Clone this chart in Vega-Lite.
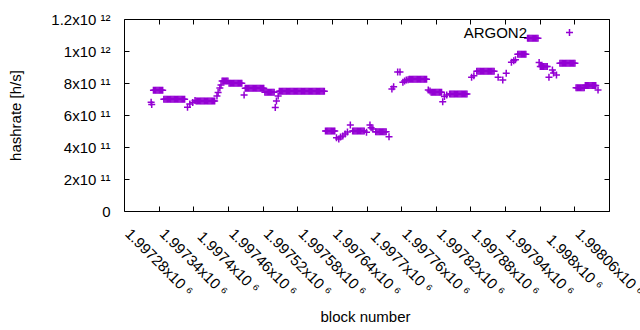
{
 "$schema": "https://vega.github.io/schema/vega-lite/v6.json",
 "width": 485,
 "height": 192,
 "autosize": {"type": "none"},
 "padding": {"left": 124, "top": 19, "right": 31, "bottom": 119},
 "background": "white",
 "config": {
  "font": "Liberation Sans",
  "view": {"stroke": "black", "strokeWidth": 1},
  "axis": {"grid": false, "domain": false, "tickColor": "black", "tickSize": -5, "tickWidth": 1, "labelFont": "Liberation Sans", "labelFontSize": 15, "labelColor": "black", "titleFont": "Liberation Sans", "titleFontSize": 15, "titleFontWeight": "normal", "titleColor": "black"}
 },
 "data": {"values": [
  {"b":1997267,"h":6.8e11},{"b":1997268,"h":6.65e11},
  {"b":1997271,"h":7.55e11},{"b":1997273,"h":7.55e11},{"b":1997275,"h":7.55e11},{"b":1997277,"h":7.55e11},{"b":1997279,"h":7.55e11},{"b":1997281,"h":7.55e11},{"b":1997283,"h":7.55e11},{"b":1997285,"h":7.55e11},{"b":1997287,"h":7.55e11},
  {"b":1997289,"h":6.98e11},{"b":1997291,"h":6.98e11},{"b":1997293,"h":6.98e11},{"b":1997295,"h":6.98e11},{"b":1997297,"h":6.98e11},{"b":1997299,"h":6.98e11},{"b":1997301,"h":6.98e11},{"b":1997303,"h":6.98e11},{"b":1997305,"h":6.98e11},{"b":1997307,"h":6.98e11},{"b":1997309,"h":6.98e11},{"b":1997311,"h":6.98e11},{"b":1997313,"h":6.98e11},{"b":1997315,"h":6.98e11},{"b":1997317,"h":6.98e11},{"b":1997319,"h":6.98e11},{"b":1997321,"h":6.98e11},{"b":1997323,"h":6.98e11},{"b":1997325,"h":6.98e11},
  {"b":1997330,"h":6.48e11},{"b":1997334,"h":6.69e11},{"b":1997339,"h":6.78e11},{"b":1997343,"h":6.9e11},
  {"b":1997345,"h":6.88e11},{"b":1997347,"h":6.88e11},{"b":1997349,"h":6.88e11},{"b":1997351,"h":6.88e11},{"b":1997353,"h":6.88e11},{"b":1997355,"h":6.88e11},{"b":1997357,"h":6.88e11},{"b":1997359,"h":6.88e11},{"b":1997361,"h":6.88e11},{"b":1997363,"h":6.88e11},{"b":1997365,"h":6.88e11},{"b":1997367,"h":6.88e11},{"b":1997369,"h":6.88e11},{"b":1997371,"h":6.88e11},{"b":1997373,"h":6.88e11},{"b":1997375,"h":6.88e11},{"b":1997377,"h":6.88e11},
  {"b":1997381,"h":7.19e11},{"b":1997383,"h":7.41e11},{"b":1997386,"h":7.69e11},{"b":1997388,"h":7.88e11},
  {"b":1997390,"h":8.13e11},{"b":1997392,"h":8.13e11},{"b":1997394,"h":8.13e11},{"b":1997396,"h":8.13e11},{"b":1997398,"h":8.13e11},{"b":1997400,"h":8.13e11},
  {"b":1997402,"h":7.99e11},{"b":1997404,"h":7.99e11},{"b":1997406,"h":7.99e11},{"b":1997408,"h":7.99e11},{"b":1997410,"h":7.99e11},{"b":1997412,"h":7.99e11},{"b":1997414,"h":7.99e11},{"b":1997416,"h":7.99e11},{"b":1997418,"h":7.99e11},{"b":1997420,"h":7.99e11},{"b":1997422,"h":7.99e11},{"b":1997424,"h":7.99e11},
  {"b":1997428,"h":7.25e11},
  {"b":1997430,"h":7.67e11},{"b":1997432,"h":7.67e11},{"b":1997434,"h":7.67e11},{"b":1997436,"h":7.67e11},{"b":1997438,"h":7.67e11},{"b":1997440,"h":7.67e11},{"b":1997442,"h":7.67e11},{"b":1997444,"h":7.67e11},{"b":1997446,"h":7.67e11},{"b":1997448,"h":7.67e11},{"b":1997450,"h":7.67e11},{"b":1997452,"h":7.67e11},{"b":1997454,"h":7.67e11},{"b":1997456,"h":7.67e11},{"b":1997458,"h":7.67e11},{"b":1997460,"h":7.67e11},{"b":1997462,"h":7.67e11},
  {"b":1997464,"h":7.42e11},{"b":1997466,"h":7.42e11},{"b":1997468,"h":7.42e11},{"b":1997470,"h":7.42e11},{"b":1997472,"h":7.42e11},{"b":1997474,"h":7.42e11},{"b":1997476,"h":7.42e11},{"b":1997478,"h":7.42e11},{"b":1997480,"h":7.42e11},
  {"b":1997482,"h":6.47e11},{"b":1997484,"h":6.88e11},{"b":1997487,"h":7.19e11},
  {"b":1997489,"h":7.49e11},{"b":1997491,"h":7.49e11},{"b":1997493,"h":7.49e11},{"b":1997495,"h":7.49e11},{"b":1997497,"h":7.49e11},{"b":1997499,"h":7.49e11},{"b":1997501,"h":7.49e11},{"b":1997503,"h":7.49e11},{"b":1997505,"h":7.49e11},{"b":1997507,"h":7.49e11},{"b":1997509,"h":7.49e11},{"b":1997511,"h":7.49e11},{"b":1997513,"h":7.49e11},{"b":1997515,"h":7.49e11},{"b":1997517,"h":7.49e11},{"b":1997519,"h":7.49e11},{"b":1997521,"h":7.49e11},{"b":1997523,"h":7.49e11},{"b":1997525,"h":7.49e11},{"b":1997527,"h":7.49e11},{"b":1997529,"h":7.49e11},{"b":1997531,"h":7.49e11},{"b":1997533,"h":7.49e11},{"b":1997535,"h":7.49e11},{"b":1997537,"h":7.49e11},{"b":1997539,"h":7.49e11},{"b":1997541,"h":7.49e11},{"b":1997543,"h":7.49e11},{"b":1997545,"h":7.49e11},{"b":1997547,"h":7.49e11},{"b":1997549,"h":7.49e11},{"b":1997551,"h":7.49e11},{"b":1997553,"h":7.49e11},{"b":1997555,"h":7.49e11},{"b":1997557,"h":7.49e11},{"b":1997559,"h":7.49e11},{"b":1997561,"h":7.49e11},{"b":1997563,"h":7.49e11},{"b":1997565,"h":7.49e11},{"b":1997567,"h":7.49e11},
  {"b":1997569,"h":5.0e11},{"b":1997571,"h":5.0e11},{"b":1997573,"h":5.0e11},{"b":1997575,"h":5.0e11},{"b":1997577,"h":5.0e11},{"b":1997579,"h":5.0e11},{"b":1997581,"h":5.0e11},{"b":1997583,"h":5.0e11},{"b":1997585,"h":5.0e11},
  {"b":1997588,"h":4.58e11},{"b":1997592,"h":4.5e11},{"b":1997595,"h":4.62e11},{"b":1997599,"h":4.68e11},{"b":1997603,"h":4.81e11},{"b":1997607,"h":4.93e11},{"b":1997612,"h":5.37e11},
  {"b":1997616,"h":5.0e11},{"b":1997618,"h":5.0e11},{"b":1997620,"h":5.0e11},{"b":1997622,"h":5.0e11},{"b":1997624,"h":5.0e11},{"b":1997626,"h":5.0e11},{"b":1997628,"h":5.0e11},{"b":1997630,"h":5.0e11},{"b":1997632,"h":5.0e11},{"b":1997634,"h":5.0e11},{"b":1997636,"h":5.0e11},
  {"b":1997640,"h":4.92e11},{"b":1997646,"h":5.37e11},{"b":1997648,"h":5.2e11},{"b":1997651,"h":5.12e11},
  {"b":1997656,"h":4.95e11},{"b":1997658,"h":4.95e11},{"b":1997660,"h":4.95e11},{"b":1997662,"h":4.95e11},{"b":1997664,"h":4.95e11},{"b":1997666,"h":4.95e11},{"b":1997668,"h":4.95e11},{"b":1997670,"h":4.95e11},{"b":1997672,"h":4.95e11},{"b":1997674,"h":4.95e11},
  {"b":1997679,"h":4.64e11},
  {"b":1997684,"h":7.63e11},{"b":1997687,"h":7.76e11},
  {"b":1997694,"h":8.68e11},{"b":1997698,"h":8.68e11},
  {"b":1997703,"h":8.05e11},{"b":1997706,"h":8.13e11},{"b":1997709,"h":8.18e11},{"b":1997712,"h":8.2e11},
  {"b":1997714,"h":8.24e11},{"b":1997716,"h":8.24e11},{"b":1997718,"h":8.24e11},{"b":1997720,"h":8.24e11},{"b":1997722,"h":8.24e11},{"b":1997724,"h":8.24e11},{"b":1997726,"h":8.24e11},{"b":1997728,"h":8.24e11},{"b":1997730,"h":8.24e11},{"b":1997732,"h":8.24e11},{"b":1997734,"h":8.24e11},{"b":1997736,"h":8.24e11},{"b":1997738,"h":8.24e11},{"b":1997740,"h":8.24e11},{"b":1997742,"h":8.24e11},{"b":1997744,"h":8.24e11},
  {"b":1997747,"h":7.57e11},{"b":1997750,"h":7.5e11},
  {"b":1997752,"h":7.42e11},{"b":1997754,"h":7.42e11},{"b":1997756,"h":7.42e11},{"b":1997758,"h":7.42e11},{"b":1997760,"h":7.42e11},{"b":1997762,"h":7.42e11},{"b":1997764,"h":7.42e11},{"b":1997766,"h":7.42e11},{"b":1997768,"h":7.42e11},{"b":1997770,"h":7.42e11},
  {"b":1997772,"h":6.83e11},{"b":1997775,"h":7.15e11},{"b":1997779,"h":7.25e11},
  {"b":1997784,"h":7.32e11},{"b":1997786,"h":7.32e11},{"b":1997788,"h":7.32e11},{"b":1997790,"h":7.32e11},{"b":1997792,"h":7.32e11},{"b":1997794,"h":7.32e11},{"b":1997796,"h":7.32e11},{"b":1997798,"h":7.32e11},{"b":1997800,"h":7.32e11},{"b":1997802,"h":7.32e11},{"b":1997804,"h":7.32e11},{"b":1997806,"h":7.32e11},{"b":1997808,"h":7.32e11},{"b":1997810,"h":7.32e11},{"b":1997812,"h":7.32e11},{"b":1997814,"h":7.32e11},
  {"b":1997822,"h":8.36e11},{"b":1997826,"h":8.45e11},
  {"b":1997831,"h":8.74e11},{"b":1997833,"h":8.74e11},{"b":1997835,"h":8.74e11},{"b":1997837,"h":8.74e11},{"b":1997839,"h":8.74e11},{"b":1997841,"h":8.74e11},{"b":1997843,"h":8.74e11},{"b":1997845,"h":8.74e11},{"b":1997847,"h":8.74e11},{"b":1997849,"h":8.74e11},{"b":1997851,"h":8.74e11},{"b":1997853,"h":8.74e11},{"b":1997855,"h":8.74e11},{"b":1997857,"h":8.74e11},{"b":1997859,"h":8.74e11},{"b":1997861,"h":8.74e11},
  {"b":1997868,"h":8.36e11},{"b":1997876,"h":8.19e11},{"b":1997882,"h":8.61e11},
  {"b":1997891,"h":9.3e11},{"b":1997895,"h":9.39e11},{"b":1997898,"h":9.45e11},
  {"b":1997902,"h":9.8e11},{"b":1997904,"h":9.8e11},{"b":1997906,"h":9.8e11},{"b":1997908,"h":9.8e11},{"b":1997910,"h":9.8e11},{"b":1997912,"h":9.8e11},{"b":1997914,"h":9.8e11},{"b":1997916,"h":9.8e11},
  {"b":1997919,"h":1.08e12},{"b":1997921,"h":1.08e12},{"b":1997923,"h":1.08e12},{"b":1997925,"h":1.08e12},{"b":1997927,"h":1.08e12},{"b":1997929,"h":1.08e12},{"b":1997931,"h":1.08e12},{"b":1997933,"h":1.08e12},{"b":1997935,"h":1.08e12},{"b":1997937,"h":1.08e12},
  {"b":1997939,"h":9.28e11},
  {"b":1997941,"h":9.03e11},{"b":1997943,"h":9.03e11},{"b":1997945,"h":9.03e11},{"b":1997947,"h":9.03e11},{"b":1997949,"h":9.03e11},{"b":1997951,"h":9.03e11},{"b":1997953,"h":9.03e11},
  {"b":1997956,"h":8.36e11},{"b":1997962,"h":8.82e11},{"b":1997964,"h":8.63e11},{"b":1997969,"h":8.5e11},
  {"b":1997975,"h":9.24e11},{"b":1997977,"h":9.24e11},{"b":1997979,"h":9.24e11},{"b":1997981,"h":9.24e11},{"b":1997983,"h":9.24e11},{"b":1997985,"h":9.24e11},{"b":1997987,"h":9.24e11},{"b":1997989,"h":9.24e11},{"b":1997991,"h":9.24e11},{"b":1997993,"h":9.24e11},{"b":1997995,"h":9.24e11},{"b":1997997,"h":9.24e11},{"b":1997999,"h":9.24e11},{"b":1998001,"h":9.24e11},
  {"b":1998003,"h":7.71e11},{"b":1998005,"h":7.71e11},{"b":1998007,"h":7.71e11},{"b":1998009,"h":7.71e11},{"b":1998011,"h":7.71e11},{"b":1998013,"h":7.71e11},{"b":1998015,"h":7.71e11},{"b":1998017,"h":7.71e11},
  {"b":1998019,"h":7.84e11},{"b":1998021,"h":7.84e11},{"b":1998023,"h":7.84e11},{"b":1998025,"h":7.84e11},{"b":1998027,"h":7.84e11},{"b":1998029,"h":7.84e11},{"b":1998031,"h":7.84e11},{"b":1998033,"h":7.84e11},{"b":1998035,"h":7.84e11},{"b":1998037,"h":7.84e11},
  {"b":1998041,"h":7.57e11}
 ]},
 "layer": [
  {
   "mark": {"type": "point", "shape": "M-1,0H1M0,-1V1", "filled": false, "size": 49, "strokeWidth": 1.5, "opacity": 1},
   "encoding": {
    "x": {"field": "b", "type": "quantitative",
     "scale": {"domain": [1997220, 1998060], "nice": false, "zero": false},
     "axis": {"orient": "bottom", "values": [1997280,1997340,1997400,1997460,1997520,1997580,1997640,1997700,1997760,1997820,1997880,1997940,1998000,1998060],
      "labelExpr": "format(datum.value/1e6, '.6~g') + 'x10 \u2076'",
      "labelAngle": 45, "labelAlign": "center", "labelBaseline": "middle", "labelPadding": 56,
      "labelOverlap": false, "labelFlush": false, "labelBound": false,
      "title": "block number", "titleX": 241, "titleY": 105, "titleAlign": "center", "titleBaseline": "middle", "titleAngle": 0}},
    "y": {"field": "h", "type": "quantitative",
     "scale": {"domain": [0, 1.2e12], "nice": false},
     "axis": {"orient": "left", "values": [0, 2e11, 4e11, 6e11, 8e11, 1e12, 1.2e12],
      "labelExpr": "datum.value == 0 ? '0' : (datum.value >= 1e12 ? format(datum.value/1e12, '~g') + 'x10 \u00b9\u00b2' : format(datum.value/1e11, '~g') + 'x10 \u00b9\u00b9')",
      "labelPadding": 19, "labelOverlap": false,
      "title": "hashrate [h/s]", "titleX": -109, "titleY": 96, "titleAngle": -90, "titleAlign": "center", "titleBaseline": "middle"}},
    "color": {"datum": "ARGON2", "scale": {"range": ["#9400d3"]},
     "legend": {"orient": "none", "legendX": 438, "legendY": 6, "title": null, "padding": 0,
      "symbolType": "M-1,0H1M0,-1V1", "symbolSize": 49, "symbolStrokeWidth": 1.5, "symbolFillColor": "transparent",
      "labelAlign": "right", "labelOffset": -50, "labelFontSize": 15, "labelColor": "black", "labelFont": "Liberation Sans"}}
   }
  },
  {
   "mark": {"type": "point", "opacity": 0},
   "encoding": {
    "x": {"field": "b", "type": "quantitative",
     "axis": {"orient": "top", "values": [1997280,1997340,1997400,1997460,1997520,1997580,1997640,1997700,1997760,1997820,1997880,1997940,1998000,1998060], "labels": false, "title": null}},
    "y": {"field": "h", "type": "quantitative",
     "axis": {"orient": "right", "values": [0, 2e11, 4e11, 6e11, 8e11, 1e12, 1.2e12], "labels": false, "title": null}}
   }
  }
 ],
 "resolve": {"axis": {"x": "independent", "y": "independent"}}
}
